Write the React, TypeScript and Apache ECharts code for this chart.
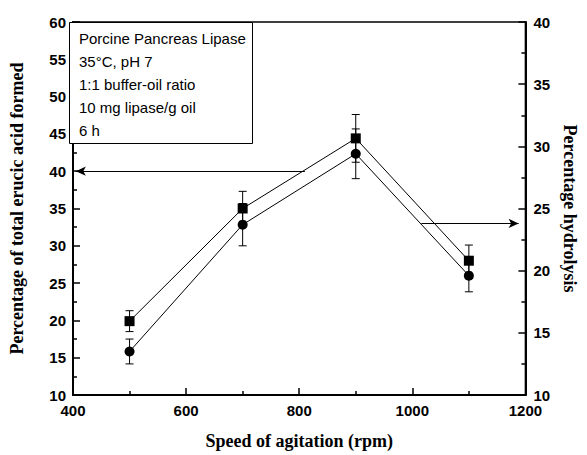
import React, { useEffect, useRef } from "react";
import * as echarts from "echarts";

const rpm = [500, 700, 900, 1100];
const erucicAcid = [19.9, 35.0, 44.4, 28.0];
const erucicErr = [1.4, 2.3, 3.2, 2.1];
const hydrolysis = [13.5, 23.7, 29.4, 19.6];
const hydrolysisErr = [1.0, 1.7, 2.0, 1.3];
const noteLines = [
  "Porcine Pancreas Lipase",
  "35°C, pH 7",
  "1:1 buffer-oil ratio",
  "10 mg lipase/g oil",
  "6 h",
];
const leftArrow = [
  [810, 40],
  [405, 40],
];
const rightArrow = [
  [1016, 23.8],
  [1188, 23.8],
];

const errRender = (params: any, api: any) => {
  const x = api.value(0);
  const lo = api.value(1);
  const hi = api.value(2);
  const p1 = api.coord([x, hi]);
  const p2 = api.coord([x, lo]);
  const w = 4;
  const style = { stroke: "#000", lineWidth: 1 };
  return {
    type: "group",
    children: [
      { type: "line", shape: { x1: p1[0], y1: p1[1], x2: p2[0], y2: p2[1] }, style },
      { type: "line", shape: { x1: p1[0] - w, y1: p1[1], x2: p1[0] + w, y2: p1[1] }, style },
      { type: "line", shape: { x1: p2[0] - w, y1: p2[1], x2: p2[0] + w, y2: p2[1] }, style },
    ],
  };
};

export default function App() {
  const ref = useRef<HTMLDivElement>(null);
  useEffect(() => {
    if (!ref.current) return;
    const chart = echarts.init(ref.current, null, { renderer: "svg" });
    const tickLabel = {
      color: "#000",
      fontFamily: "Liberation Sans",
      fontWeight: "bold",
      fontSize: 15,
      formatter: (v: number) => String(v),
    };
    const nameStyle = {
      color: "#000",
      fontFamily: "Liberation Serif",
      fontWeight: "bold",
      fontSize: 18,
    };
    const axisLine = { show: true, lineStyle: { color: "#000", width: 2 } };
    const gridL = 69, gridT = 22, gridR = 52, gridB = 57;
    chart.setOption({
      animation: false,
      backgroundColor: "#fff",
      grid: {
        left: gridL,
        right: gridR,
        top: gridT,
        bottom: gridB,
        show: true,
        borderColor: "#000",
        borderWidth: 1.5,
      },
      xAxis: {
        type: "value",
        min: 400,
        max: 1200,
        interval: 200,
        name: "Speed of agitation (rpm)",
        nameLocation: "middle",
        nameGap: 37,
        nameTextStyle: nameStyle,
        axisLine,
        axisTick: { inside: true, length: 7, lineStyle: { color: "#000", width: 1.5 } },
        minorTick: { show: true, splitNumber: 2, length: 4, lineStyle: { color: "#000", width: 1.5 } },
        axisLabel: { ...tickLabel, margin: 8 },
        splitLine: { show: false },
      },
      yAxis: [
        {
          type: "value",
          min: 10,
          max: 60,
          interval: 5,
          name: "Percentage of total erucic acid formed",
          nameLocation: "middle",
          nameRotate: 90,
          nameGap: 47,
          nameTextStyle: nameStyle,
          axisLine,
          axisTick: { inside: true, length: 7, lineStyle: { color: "#000", width: 1.5 } },
          minorTick: { show: true, splitNumber: 2, length: 4, lineStyle: { color: "#000", width: 1.5 } },
          axisLabel: { ...tickLabel, margin: 7 },
          splitLine: { show: false },
        },
        {
          type: "value",
          position: "right",
          min: 10,
          max: 40,
          interval: 5,
          name: "Percentage hydrolysis",
          nameLocation: "middle",
          nameRotate: -90,
          nameGap: 33,
          nameTextStyle: nameStyle,
          axisLine,
          axisTick: { inside: true, length: 7, lineStyle: { color: "#000", width: 1.5 } },
          minorTick: { show: true, splitNumber: 2, length: 4, lineStyle: { color: "#000", width: 1.5 } },
          axisLabel: { ...tickLabel, margin: 8 },
          splitLine: { show: false },
        },
      ],
      series: [
        {
          type: "custom",
          yAxisIndex: 0,
          renderItem: errRender,
          encode: { x: 0, y: [1, 2] },
          data: rpm.map((x, i) => [x, erucicAcid[i] - erucicErr[i], erucicAcid[i] + erucicErr[i]]),
          z: 1,
        },
        {
          type: "custom",
          yAxisIndex: 1,
          renderItem: errRender,
          encode: { x: 0, y: [1, 2] },
          data: rpm.map((x, i) => [x, hydrolysis[i] - hydrolysisErr[i], hydrolysis[i] + hydrolysisErr[i]]),
          z: 1,
        },
        {
          type: "line",
          yAxisIndex: 0,
          data: rpm.map((x, i) => [x, erucicAcid[i]]),
          symbol: "rect",
          symbolSize: 10,
          itemStyle: { color: "#000" },
          lineStyle: { color: "#000", width: 1 },
          z: 3,
          markLine: {
            silent: true,
            symbol: ["none", "arrow"],
            symbolSize: [7, 10],
            label: { show: false },
            lineStyle: { color: "#000", width: 1, type: "solid" },
            data: [[{ coord: leftArrow[0] }, { coord: leftArrow[1] }]],
          },
        },
        {
          type: "line",
          yAxisIndex: 1,
          data: rpm.map((x, i) => [x, hydrolysis[i]]),
          symbol: "circle",
          symbolSize: 10,
          itemStyle: { color: "#000" },
          lineStyle: { color: "#000", width: 1 },
          z: 3,
          markLine: {
            silent: true,
            symbol: ["none", "arrow"],
            symbolSize: [7, 10],
            label: { show: false },
            lineStyle: { color: "#000", width: 1, type: "solid" },
            data: [[{ coord: rightArrow[0] }, { coord: rightArrow[1] }]],
          },
        },
      ],
      graphic: [
        {
          type: "rect",
          left: gridL,
          top: gridT,
          shape: { width: 183, height: 121 },
          style: { fill: "#fff", stroke: "#000", lineWidth: 1 },
          z: 10,
        },
        ...noteLines.map((t, i) => ({
          type: "text",
          left: 79,
          top: 31 + i * 23,
          style: {
            text: t,
            fill: "#000",
            font: "15px 'Liberation Sans'",
          },
          z: 11,
        })),
      ],
    });
    return () => chart.dispose();
  }, []);
  return (
    <div
      ref={ref}
      style={{ position: "absolute", left: 0, top: 0, width: 587, height: 455 }}
    />
  );
}
